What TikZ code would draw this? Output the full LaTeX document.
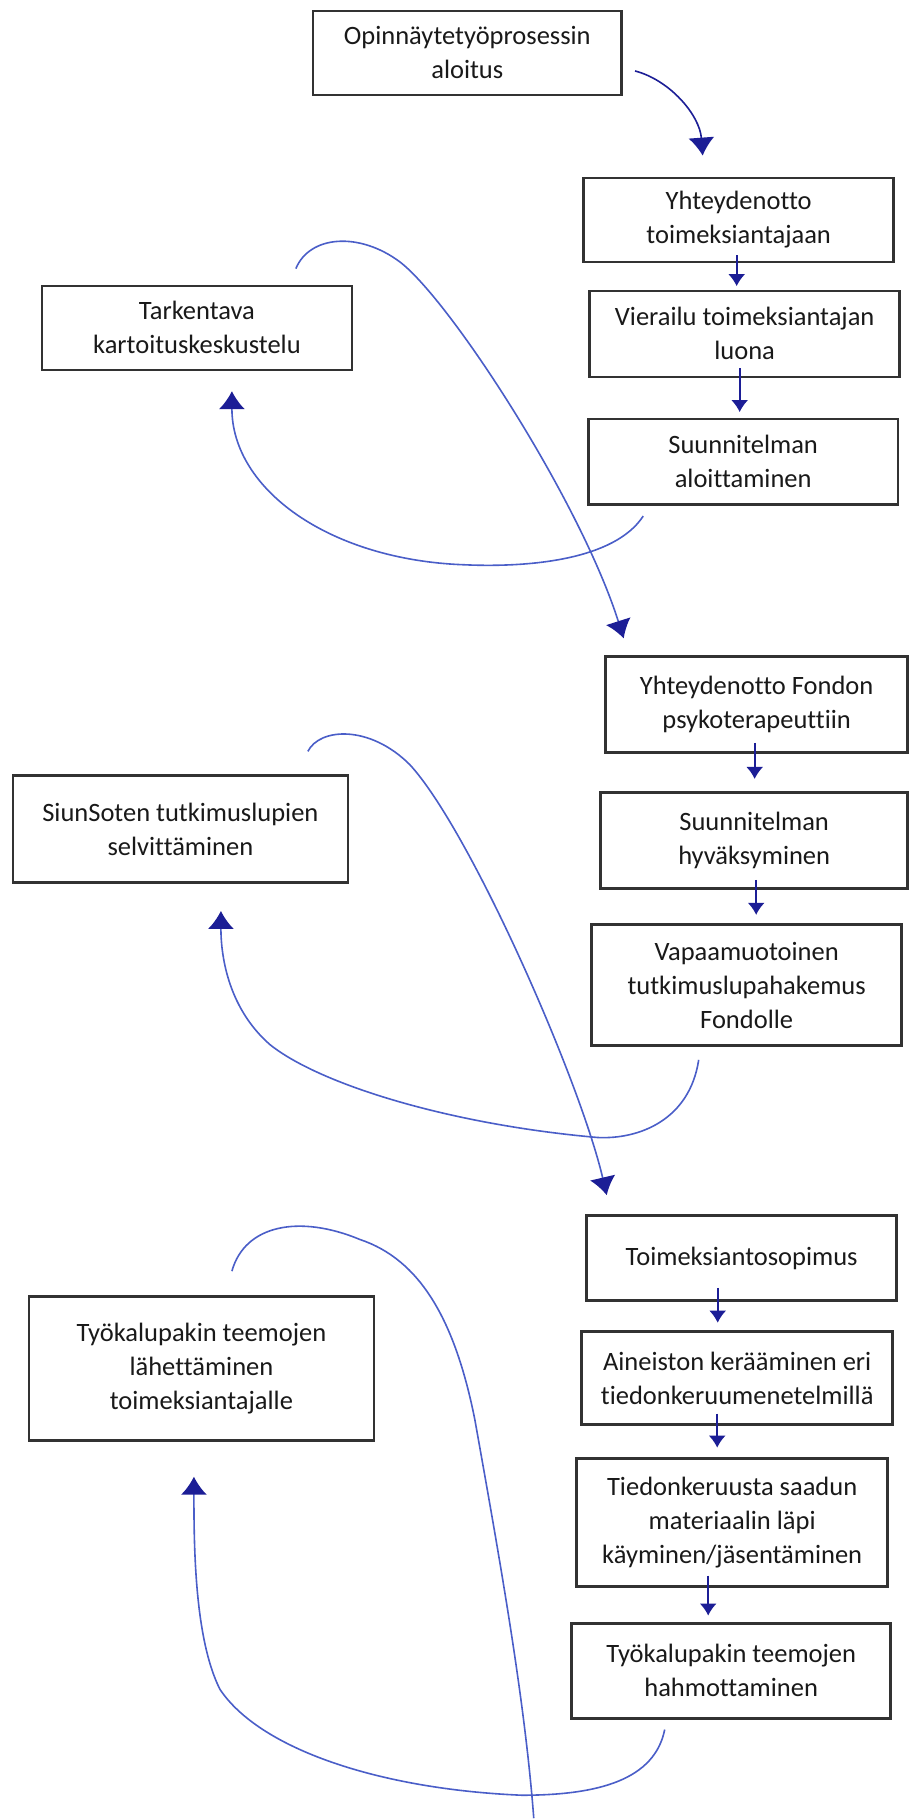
\documentclass[tikz,border=0pt]{standalone}
\usepackage{fontspec}
\setmainfont{Carlito}[Ligatures=NoCommon]
\usetikzlibrary{arrows.meta,calc}
\definecolor{penblue}{RGB}{74,94,200}
\definecolor{inkblue}{RGB}{28,30,150}
\definecolor{boxgray}{RGB}{50,50,50}
\begin{document}
\begin{tikzpicture}[x=1pt, y=-1pt,
        box/.style={draw=boxgray, line width=2.6pt, align=center, inner sep=0pt,
            minimum width=310pt, text=black!90, font=\fontsize{26.5}{34}\selectfont},
        down/.style={inkblue, line width=1.8pt, -{Latex[length=12pt,width=17pt]}},
        swing/.style={penblue, line width=1.6pt, -{Latex[length=18pt,width=26pt,color=inkblue]}}]
    \path[fill=white] (0,0) rectangle (910,1819);

    \node[box, minimum width=309pt, minimum height=84pt] (start) at (467.5,53) {Opinnäytetyöprosessin\\aloitus};
    \node[box, minimum height=84pt] (yht) at (739,220) {Yhteydenotto\\toimeksiantajaan};
    \node[box, minimum height=86pt] (vier) at (745,334) {Vierailu toimeksiantajan\\luona};
    \node[box, minimum height=86pt] (suun) at (743.5,462) {Suunnitelman\\aloittaminen};
    \node[box, minimum height=84pt] (tark) at (197,328) {Tarkentava\\kartoituskeskustelu};

    \node[box, minimum width=302pt, minimum height=96pt] (fondon) at (757,705) {Yhteydenotto Fondon\\psykoterapeuttiin};
    \node[box, minimum width=307pt, minimum height=96pt] (hyv) at (754.5,841) {Suunnitelman\\hyväksyminen};
    \node[box, minimum height=121pt] (vapaa) at (747,985.5) {Vapaamuotoinen\\tutkimuslupahakemus\\Fondolle};
    \node[box, minimum width=335pt, minimum height=107pt] (siun) at (180.5,829.5) {SiunSoten tutkimuslupien\\selvittäminen};

    \node[box, minimum height=85pt] (toim) at (742,1258.5) {Toimeksiantosopimus};
    \node[box, minimum width=311pt, minimum height=93pt] (aine) at (737.5,1378.5) {Aineiston kerääminen eri\\tiedonkeruumenetelmillä};
    \node[box, minimum width=311pt, minimum height=128pt] (tied) at (732.5,1523) {Tiedonkeruusta saadun\\materiaalin läpi\\käyminen/jäsentäminen};
    \node[box, minimum width=319pt, minimum height=95pt] (hahm) at (731.5,1671.5) {Työkalupakin teemojen\\hahmottaminen};
    \node[box, minimum width=345pt, minimum height=144pt] (lahe) at (201.5,1369) {Työkalupakin teemojen\\lähettäminen\\toimeksiantajalle};

    \coordinate (cut) at (534,1819);

    \draw[swing, draw=inkblue] ($(start.east)+(12,18)$) .. controls (670,80) and (700,115) .. ($(yht.north)+(-36,-21)$);

    \draw[down] ($(yht.south)+(-2,-8)$) -- ($(yht.south)+(-2,23)$);
    \draw[down] ($(vier.south)+(-5,-10)$) -- ($(vier.south)+(-5,34)$);
    \draw[down] ($(fondon.south)+(-2,-11)$) -- ($(fondon.south)+(-2,25)$);
    \draw[down] ($(hyv.south)+(2,-10)$) -- ($(hyv.south)+(2,25)$);
    \draw[down] ($(toim.south)+(-24,-14)$) -- ($(toim.south)+(-24,21)$);
    \draw[down] ($(aine.south)+(-20,-12)$) -- ($(aine.south)+(-20,22)$);
    \draw[down] ($(tied.south)+(-24,-12)$) -- ($(tied.south)+(-24,28)$);

    \draw[swing] ($(suun.south)+(-100,10)$) .. controls (615,560) and (530,568) .. (464,565)
        .. controls (330,560) and (232,490) .. ($(tark.south)+(35,20)$);
    \draw[swing] ($(tark.north)+(99,-16)$) .. controls (310,235) and (360,232) .. (400,262)
        .. controls (450,300) and (580,500) .. ($(fondon.north)+(-133,-17)$);

    \draw[swing] ($(vapaa.south)+(-48,13)$) .. controls (690,1120) and (640,1140) .. (598,1138)
        .. controls (450,1125) and (320,1085) .. (270,1045)
        .. controls (230,1010) and (221,960) .. ($(siun.south)+(40.5,27)$);
    \draw[swing] ($(siun.north)+(127.5,-23)$) .. controls (320,728) and (370,725) .. (410,765)
        .. controls (470,830) and (580,1080) .. ($(toim.north)+(-135,-19)$);

    \draw[swing] ($(hahm.south)+(-66.5,10)$) .. controls (655,1780) and (600,1796) .. (522,1796)
        .. controls (380,1790) and (260,1750) .. (220,1690)
        .. controls (195,1640) and (194,1550) .. ($(lahe.south)+(-7.5,35)$);
    \draw[swing, -] ($(lahe.north)+(30.5,-24)$) .. controls (245,1225) and (300,1215) .. (360,1240)
        .. controls (420,1260) and (455,1320) .. (475,1420)
        .. controls (500,1560) and (525,1700) .. (cut);
\end{tikzpicture}
\end{document}
